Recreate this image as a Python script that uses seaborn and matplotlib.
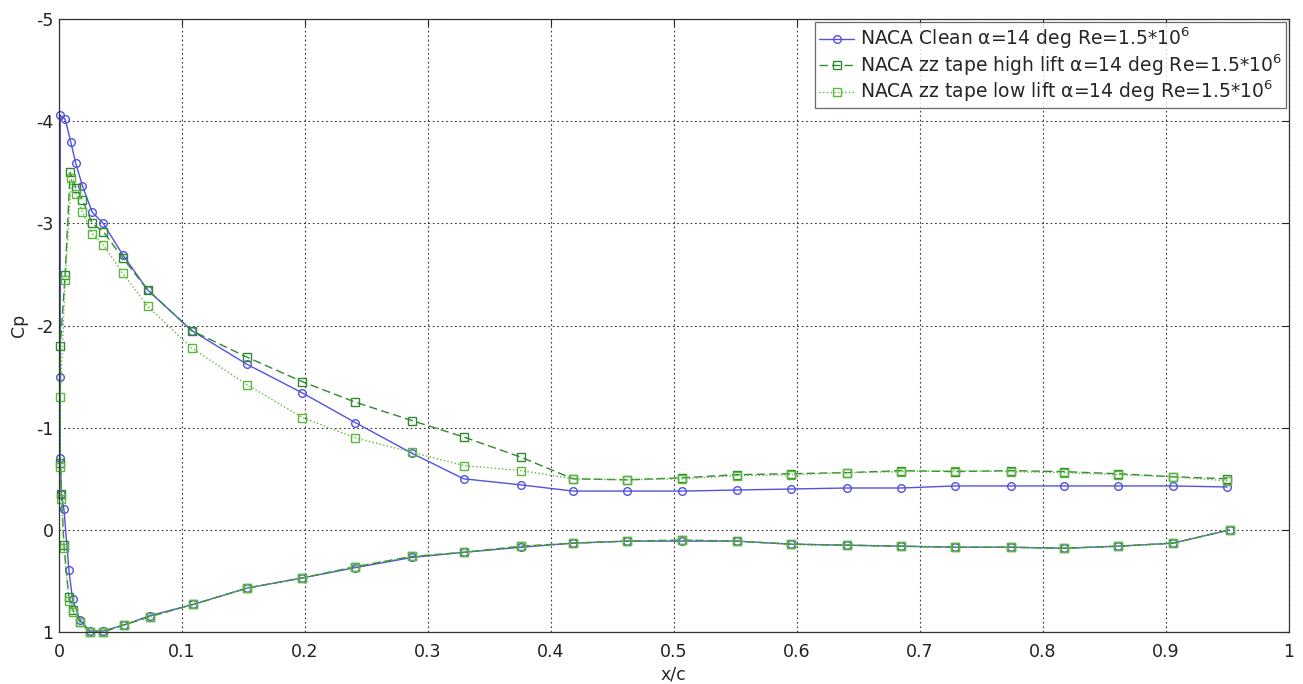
import numpy as np
import pandas as pd
import matplotlib
matplotlib.use("Agg")
import matplotlib.pyplot as plt
import seaborn as sns

# =========================================================
# DATA
# =========================================================

# upper surface tap positions (TE -> LE order)
x_upper = [0.950, 0.906, 0.861, 0.817, 0.774, 0.729, 0.685, 0.641, 0.595, 0.551,
           0.507, 0.462, 0.418, 0.376, 0.329, 0.287, 0.241, 0.198, 0.153, 0.108,
           0.072, 0.052, 0.036, 0.027, 0.019, 0.0136]

# lower surface tap positions (LE -> TE order)
x_lower = [0.004, 0.008, 0.011, 0.017, 0.025, 0.036, 0.053, 0.074, 0.109, 0.153,
           0.198, 0.241, 0.287, 0.329, 0.376, 0.418, 0.462, 0.507, 0.551, 0.595,
           0.641, 0.685, 0.729, 0.774, 0.817, 0.861, 0.906, 0.952]

# leading edge taps, one list per series
x_le_clean = [0.0095, 0.005, 0.001, 0.001, 0.001, 0.002]
x_le_high = [0.009, 0.005, 0.001, 0.001, 0.002]
x_le_low = [0.010, 0.005, 0.001, 0.001, 0.002]

cp_upper_clean = [-0.42, -0.43, -0.43, -0.43, -0.43, -0.43, -0.41, -0.41, -0.40, -0.39,
                  -0.38, -0.38, -0.38, -0.44, -0.50, -0.75, -1.05, -1.34, -1.62, -1.95,
                  -2.35, -2.69, -3.00, -3.11, -3.37, -3.59]
cp_le_clean = [-3.80, -4.02, -4.06, -1.50, -0.70, -0.35]
cp_lower_clean = [-0.20, 0.39, 0.68, 0.88, 0.99, 0.99, 0.93, 0.84, 0.73, 0.57,
                  0.47, 0.37, 0.27, 0.22, 0.17, 0.13, 0.11, 0.11, 0.11, 0.14,
                  0.15, 0.16, 0.17, 0.17, 0.18, 0.16, 0.13, 0.00]

cp_upper_high = [-0.50, -0.52, -0.55, -0.57, -0.58, -0.57, -0.58, -0.56, -0.55, -0.54,
                 -0.51, -0.49, -0.50, -0.71, -0.91, -1.07, -1.25, -1.45, -1.69, -1.95,
                 -2.35, -2.66, -2.92, -3.00, -3.23, -3.35]
cp_le_high = [-3.50, -2.50, -1.80, -0.65, -0.35]
cp_lower_high = [0.15, 0.66, 0.78, 0.90, 1.00, 1.00, 0.93, 0.85, 0.73, 0.57,
                 0.47, 0.36, 0.26, 0.22, 0.16, 0.13, 0.11, 0.10, 0.11, 0.14,
                 0.15, 0.16, 0.17, 0.17, 0.18, 0.16, 0.13, 0.00]

cp_upper_low = [-0.48, -0.52, -0.54, -0.56, -0.57, -0.58, -0.57, -0.56, -0.54, -0.53,
                -0.50, -0.49, -0.50, -0.58, -0.63, -0.76, -0.90, -1.10, -1.42, -1.78,
                -2.19, -2.51, -2.79, -2.90, -3.11, -3.29]
cp_le_low = [-3.44, -2.45, -1.30, -0.62, -0.30]
cp_lower_low = [0.18, 0.70, 0.80, 0.90, 1.00, 1.00, 0.93, 0.85, 0.73, 0.57,
                0.47, 0.36, 0.26, 0.22, 0.16, 0.13, 0.11, 0.10, 0.11, 0.14,
                0.15, 0.16, 0.17, 0.17, 0.18, 0.16, 0.13, 0.00]

labels = ["NACA Clean \u03b1=14 deg Re=1.5*10$^6$",
          "NACA zz tape high lift \u03b1=14 deg Re=1.5*10$^6$",
          "NACA zz tape low lift \u03b1=14 deg Re=1.5*10$^6$"]

# =========================================================
# STYLE
# =========================================================

sns.set_style("white")
plt.rcParams["font.family"] = ["DejaVu Sans"]
plt.rcParams["mathtext.fontset"] = "dejavusans"

series = [
    dict(x=x_upper + x_le_clean + x_lower,
         cp=cp_upper_clean + cp_le_clean + cp_lower_clean,
         color="#5252e0", marker="o", ls="-", label=labels[0]),
    dict(x=x_upper + x_le_high + x_lower,
         cp=cp_upper_high + cp_le_high + cp_lower_high,
         color="#2f8a2f", marker="s", ls=(0, (6, 3)), label=labels[1]),
    dict(x=x_upper + x_le_low + x_lower,
         cp=cp_upper_low + cp_le_low + cp_lower_low,
         color="#5cb83c", marker="s", ls=":", label=labels[2]),
]

fig = plt.figure(figsize=(13.03, 6.84), dpi=100)
ax = fig.add_axes([0.0453, 0.076, 0.9437, 0.896])

for s in series:
    d = pd.DataFrame({"x": s["x"], "cp": s["cp"]})
    sns.lineplot(data=d, x="x", y="cp", sort=False, estimator=None, ax=ax,
                 color=s["color"], linestyle=s["ls"], linewidth=1.0,
                 marker=s["marker"], markersize=5.5, markerfacecolor="none",
                 markeredgecolor=s["color"], markeredgewidth=1.0,
                 label=s["label"], clip_on=False)

ax.set_xlim(0, 1)
ax.set_ylim(1, -5)
ax.set_xticks(np.arange(0, 1.01, 0.1))
ax.set_xticklabels(["0", "0.1", "0.2", "0.3", "0.4", "0.5", "0.6", "0.7", "0.8", "0.9", "1"])
ax.set_yticks([1, 0, -1, -2, -3, -4, -5])
ax.set_yticklabels(["1", "0", "-1", "-2", "-3", "-4", "-5"])

ax.grid(True, linestyle=(0, (1.5, 2.5)), color="#333333", linewidth=0.8)
ax.tick_params(axis="both", direction="in", top=True, right=True,
               length=5, width=0.8, labelsize=12.5, labelcolor="#222222")
ax.tick_params(axis="x", pad=8)
ax.tick_params(axis="y", pad=4)
for sp in ax.spines.values():
    sp.set_visible(True)
    sp.set_color("#333333")
    sp.set_linewidth(0.9)

ax.set_xlabel("x/c", fontsize=12.5, labelpad=3)
ax.set_ylabel("Cp", fontsize=12.5, labelpad=6)

leg = ax.legend(loc="upper right", fontsize=13.5, frameon=True, fancybox=False,
                borderaxespad=0.15, handlelength=1.9, handletextpad=0.3,
                labelspacing=0.05, borderpad=0.2)
leg.get_frame().set_edgecolor("#444444")
leg.get_frame().set_linewidth(0.9)

fig.savefig("out.png", dpi=100)
